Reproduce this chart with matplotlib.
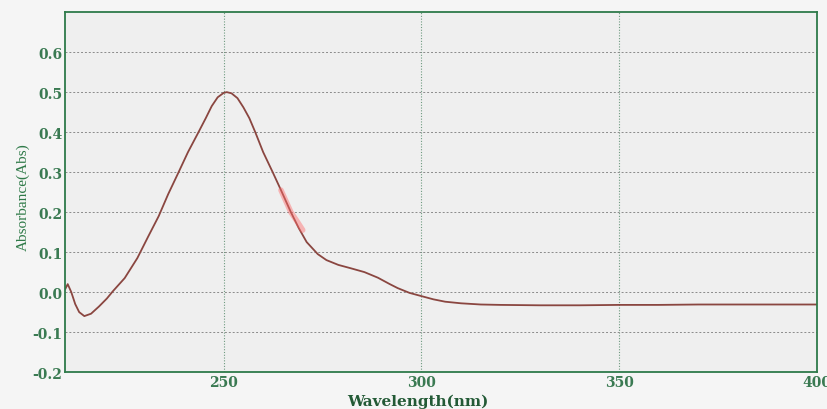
import matplotlib
matplotlib.use('Agg')
import matplotlib.pyplot as plt

# absorbance spectrum
wavelength = [210, 210.6, 211.5, 212.5, 213.5, 214.8, 216.5, 218.5, 220.5, 222,
              225, 228.2, 231, 233.6, 236, 238.4, 241, 243.4, 245.5, 247,
              248.5, 250, 250.8, 252, 253.5, 255, 256.5, 258, 260, 262.4,
              264.5, 267, 269, 271, 273.8, 276, 279, 282, 285.6, 289,
              292, 294, 297, 300, 303, 306, 310, 315, 320, 330,
              340, 350, 360, 370, 380, 390, 400]
absorbance = [0.008, 0.02, 0.0, -0.03, -0.05, -0.06, -0.054, -0.036, -0.016, 0.002,
              0.035, 0.085, 0.14, 0.19, 0.245, 0.295, 0.35, 0.395, 0.435, 0.465,
              0.487, 0.498, 0.5, 0.497, 0.485, 0.462, 0.435, 0.4, 0.35, 0.3,
              0.255, 0.2, 0.16, 0.125, 0.095, 0.08, 0.068, 0.06, 0.05, 0.036,
              0.02, 0.01, -0.002, -0.01, -0.018, -0.024, -0.028, -0.031, -0.032, -0.033,
              -0.033, -0.032, -0.032, -0.031, -0.031, -0.031, -0.031]

# pen mark over part of the falling edge
mark_wl = [264.5, 266, 267, 268.5, 270]
mark_abs = [0.255, 0.222, 0.2, 0.178, 0.155]

x_ticks = [250, 300, 350, 400]
y_ticks = [-0.2, -0.1, 0.0, 0.1, 0.2, 0.3, 0.4, 0.5, 0.6]

green = '#2e7a4a'
tick_font = ['DejaVu Serif']
label_font = ['Liberation Serif', 'DejaVu Serif']

fig = plt.figure(figsize=(8.27, 4.10), dpi=100)
fig.patch.set_facecolor('#f5f5f5')
ax = fig.add_axes([0.079, 0.09, 0.909, 0.878])
ax.set_facecolor('#efefef')

ax.plot(wavelength, absorbance, color='#8a4640', linewidth=1.3)
ax.plot(mark_wl, mark_abs, color='#ff6b6b', linewidth=4, alpha=0.45,
        solid_capstyle='round')

ax.set_xlim(210, 400)
ax.set_ylim(-0.2, 0.7)
ax.set_xticks(x_ticks)
ax.set_yticks(y_ticks)
ax.set_yticklabels([f'{v:.1f}' for v in y_ticks])

ax.yaxis.grid(True, linestyle=(0, (2, 2)), color='#8a8a8a', linewidth=0.7)
ax.xaxis.grid(True, linestyle=(0, (1, 1.5)), color='#6f9a80', linewidth=0.8)
ax.set_axisbelow(True)

for s in ax.spines.values():
    s.set_color(green)
    s.set_linewidth(1.3)

ax.tick_params(axis='y', length=0, pad=2, labelcolor='#3a7a52')
ax.tick_params(axis='x', length=0, pad=2, labelcolor='#3a7a52')
for lab in ax.get_xticklabels() + ax.get_yticklabels():
    lab.set_family(tick_font)
    lab.set_fontweight('bold')
    lab.set_fontsize(10)

ax.set_ylabel('Absorbance(Abs)', family=label_font, fontsize=11, color='#2f7a48')
ax.yaxis.set_label_coords(-0.047, 0.49)
fig.text(0.505, 0.002, 'Wavelength(nm)', family=tick_font, fontsize=11,
         fontweight='bold', color='#235a36', ha='center', va='bottom')

plt.savefig('out.png', dpi=100, facecolor=fig.get_facecolor())
plt.close()
